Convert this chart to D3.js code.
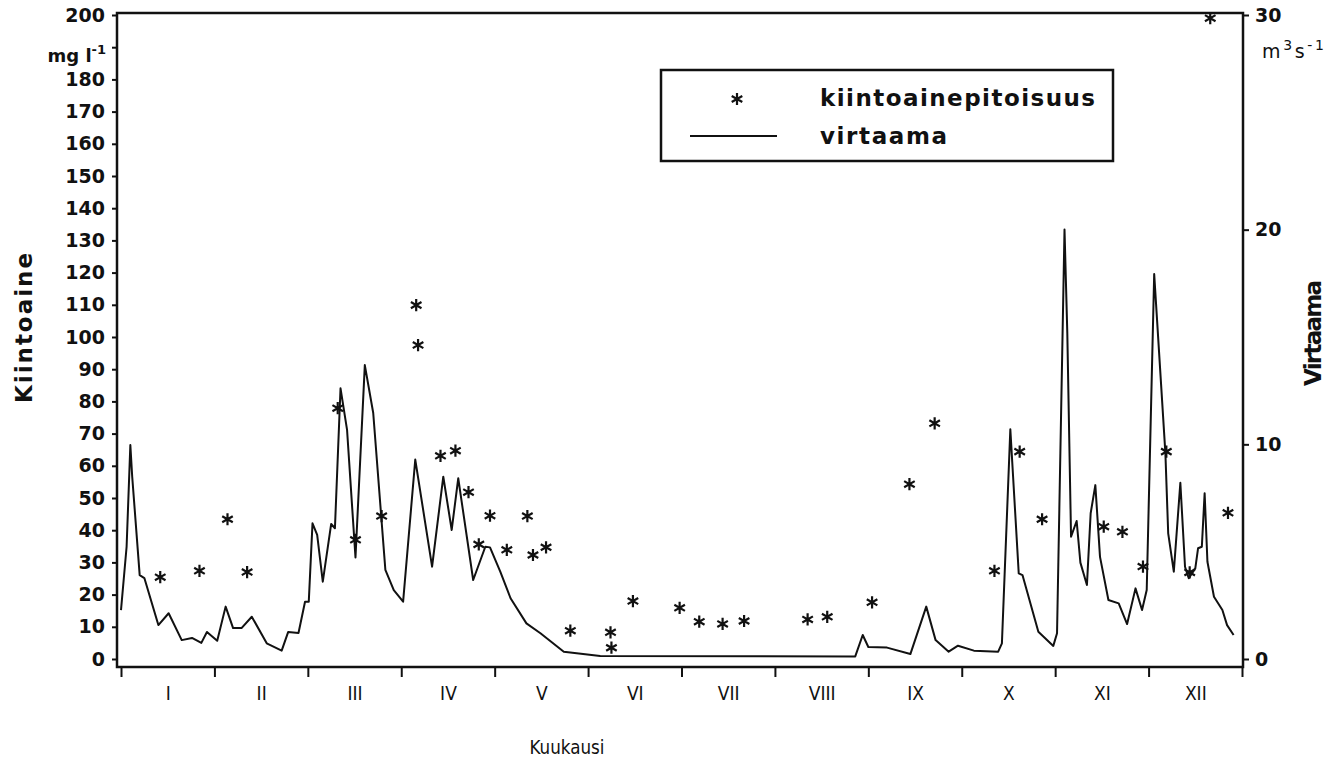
<!DOCTYPE html>
<html>
<head>
<meta charset="utf-8">
<script src="https://cdn.jsdelivr.net/npm/d3@7"></script>
<style>
  html, body { margin: 0; padding: 0; background: #fff; }
  svg { display: block; }
  .bold { font-family: "DejaVu Sans", "Liberation Sans", Arial, sans-serif; font-weight: bold; fill: #111; }
  .narrow { font-family: "Liberation Sans Narrow", "DejaVu Sans Condensed", "Arial Narrow", sans-serif; font-stretch: condensed; fill: #111; }
</style>
</head>
<body>
<svg id="chart" width="1331" height="758"></svg>
<script>
// ---- data ----
const months = ["I","II","III","IV","V","VI","VII","VIII","IX","X","XI","XII"];
const leftTickValues = [0,10,20,30,40,50,60,70,80,90,100,110,120,130,140,150,160,170,180,190,200];
const rightTickValues = [0,10,20,30];

// virtaama (m3/s), x in months from start of year
const flowMonth = [0.00,0.06,0.10,0.12,0.20,0.25,0.40,0.51,0.65,0.76,
  0.86,0.92,1.03,1.12,1.20,1.29,1.40,1.56,1.72,1.79,
  1.90,1.97,2.01,2.05,2.10,2.16,2.25,2.29,2.35,2.42,
  2.51,2.61,2.70,2.83,2.92,3.02,3.15,3.33,3.45,3.54,
  3.61,3.77,3.90,3.95,4.06,4.17,4.34,4.49,4.74,5.13,
  7.86,7.94,8.00,8.20,8.45,8.62,8.72,8.86,8.96,9.13,
  9.39,9.43,9.52,9.61,9.65,9.82,9.98,10.02,10.10,10.13,
  10.17,10.23,10.27,10.34,10.38,10.43,10.48,10.57,10.68,10.77,
  10.86,10.93,10.98,11.06,11.18,11.21,11.27,11.34,11.39,11.43,
  11.50,11.53,11.57,11.60,11.63,11.70,11.79,11.84,11.91];
const flowValue = [2.28,5.23,9.97,8.49,3.91,3.77,1.58,2.13,0.88,0.98,
  0.75,1.26,0.85,2.44,1.44,1.44,1.97,0.73,0.39,1.26,
  1.21,2.67,2.67,6.32,5.78,3.60,6.29,6.09,12.61,10.67,
  4.73,13.69,11.46,4.15,3.21,2.67,9.29,4.30,8.49,6.01,
  8.42,3.68,5.23,5.20,4.07,2.83,1.66,1.20,0.34,0.14,
  0.12,1.12,0.56,0.53,0.23,2.44,0.88,0.34,0.62,0.39,
  0.34,0.73,10.70,3.99,3.91,1.27,0.61,1.20,20.01,15.17,
  5.70,6.43,4.49,3.45,6.79,8.10,4.76,2.75,2.59,1.63,
  3.29,2.28,3.21,17.93,9.58,5.85,4.07,8.21,4.30,3.76,
  4.22,5.16,5.23,7.72,4.53,2.90,2.28,1.58,1.12];

// kiintoainepitoisuus (mg/l)
const solidsMonth = [0.42,0.84,1.14,1.35,2.32,2.51,2.79,3.16,3.18,3.42,
  3.58,3.72,3.83,3.95,4.13,4.35,4.41,4.55,4.81,5.24,
  5.25,5.48,5.98,6.19,6.44,6.67,7.35,7.56,8.04,8.44,
  8.71,9.35,9.62,9.86,10.52,10.72,10.94,11.19,11.44,11.66,11.85];
const solidsValue = [25.4,27.4,43.4,27.0,77.9,37.0,44.4,109.9,97.5,63.1,
  64.7,51.8,35.6,44.5,33.9,44.4,32.3,34.7,8.8,8.3,
  3.5,18.0,15.9,11.6,10.9,11.8,12.3,13.1,17.6,54.3,
  73.2,27.4,64.4,43.4,41.1,39.5,28.7,64.4,26.9,199,45.4];

// ---- drawing ----
const svg = d3.select("#chart");
const frame = {left: 117, right: 1243, top: 13, bottom: 667};

const x = d3.scaleLinear().domain([0, 12]).range([121, 1242]);
const yL = d3.scaleLinear().domain([0, 200]).range([659, 15]);
const yR = d3.scaleLinear().domain([0, 30]).range([659, 15]);

const ink = "#111";

// left axis
const gL = svg.append("g").attr("transform", `translate(${frame.left},0)`)
  .call(d3.axisLeft(yL).tickValues(leftTickValues).tickSize(5).tickPadding(7)
    .tickFormat(d => d === 190 ? "" : d));
gL.select(".domain").remove();
gL.selectAll(".tick line").attr("stroke", ink).attr("stroke-width", 2);
gL.selectAll(".tick text").attr("class", "bold").style("font-size", "19px").attr("fill", ink);

// unit label at 190
svg.append("text").attr("class", "bold").attr("x", 106).attr("y", 62)
  .attr("text-anchor", "end").style("font-size", "18px")
  .html('mg l<tspan dy="-8" style="font-size:13px">-1</tspan>');

// right axis
const gR = svg.append("g").attr("transform", `translate(${frame.right},0)`)
  .call(d3.axisRight(yR).tickValues(rightTickValues).tickSize(6).tickPadding(6));
gR.select(".domain").remove();
gR.selectAll(".tick line").attr("stroke", ink).attr("stroke-width", 2);
gR.selectAll(".tick text").attr("class", "bold").style("font-size", "19px").attr("fill", ink);

svg.append("text").attr("class", "bold").attr("x", 1262).attr("y", 58)
  .style("font-size", "19px").style("font-weight", "normal")
  .attr("textLength", 62).attr("lengthAdjust", "spacing")
  .html('m<tspan dy="-8" style="font-size:14px">3</tspan><tspan dy="8">s</tspan><tspan dy="-8" style="font-size:14px">-1</tspan>');

// bottom axis (month boundaries)
const gB = svg.append("g").attr("transform", `translate(0,${frame.bottom})`)
  .call(d3.axisBottom(x).tickValues(d3.range(0, 13)).tickSize(10).tickFormat(""));
gB.select(".domain").remove();
gB.selectAll(".tick line").attr("stroke", ink).attr("stroke-width", 2);

// month labels centred between boundaries
const gM = svg.append("g").attr("transform", `translate(0,${frame.bottom})`)
  .call(d3.axisBottom(x).tickValues(d3.range(0, 12).map(i => i + 0.5)).tickSize(0).tickPadding(20)
    .tickFormat((d, i) => months[i]));
gM.select(".domain").remove();
gM.selectAll(".tick text").attr("class", "narrow").style("font-size", "19px").attr("fill", ink);

// frame
svg.append("rect").attr("x", frame.left).attr("y", frame.top)
  .attr("width", frame.right - frame.left).attr("height", frame.bottom - frame.top)
  .attr("fill", "none").attr("stroke", ink).attr("stroke-width", 2.5);

// axis titles
svg.append("text").attr("class", "bold")
  .attr("transform", "translate(32,328) rotate(-90)")
  .attr("text-anchor", "middle").style("font-size", "23px")
  .attr("textLength", 150).attr("lengthAdjust", "spacing")
  .text("Kiintoaine");
svg.append("text").attr("class", "bold")
  .attr("transform", "translate(1321,333) rotate(-90)")
  .attr("text-anchor", "middle").style("font-size", "23px")
  .attr("textLength", 106).attr("lengthAdjust", "spacing")
  .text("Virtaama");
svg.append("text").attr("class", "narrow")
  .attr("x", 567).attr("y", 754).attr("text-anchor", "middle")
  .style("font-size", "19px").attr("textLength", 75).attr("lengthAdjust", "spacingAndGlyphs")
  .text("Kuukausi");

// flow line
const flowData = flowMonth.map((m, i) => ({m, v: flowValue[i]}));
svg.append("path").datum(flowData)
  .attr("fill", "none").attr("stroke", ink).attr("stroke-width", 2)
  .attr("stroke-linejoin", "round")
  .attr("d", d3.line().x(d => x(d.m)).y(d => yR(d.v)));

// solids asterisks
const star = d3.symbol().type(d3.symbolAsterisk).size(105);
const solidsData = solidsMonth.map((m, i) => ({m, v: solidsValue[i]}));
svg.append("g").selectAll("path").data(solidsData).join("path")
  .attr("transform", d => `translate(${x(d.m)},${yL(d.v)})`)
  .attr("d", star).attr("fill", "none").attr("stroke", ink).attr("stroke-width", 2.2);

// legend
const lg = svg.append("g");
lg.append("rect").attr("x", 661).attr("y", 70).attr("width", 452).attr("height", 91)
  .attr("fill", "#fff").attr("stroke", ink).attr("stroke-width", 2.5);
lg.append("path").attr("transform", "translate(737,99)").attr("d", star)
  .attr("fill", "none").attr("stroke", ink).attr("stroke-width", 2.2);
lg.append("line").attr("x1", 690).attr("x2", 777).attr("y1", 136).attr("y2", 136)
  .attr("stroke", ink).attr("stroke-width", 2);
lg.append("text").attr("class", "bold").attr("x", 820).attr("y", 106)
  .style("font-size", "23px").attr("textLength", 275).attr("lengthAdjust", "spacing")
  .text("kiintoainepitoisuus");
lg.append("text").attr("class", "bold").attr("x", 820).attr("y", 144)
  .style("font-size", "23px").attr("textLength", 127).attr("lengthAdjust", "spacing")
  .text("virtaama");
</script>
</body>
</html>
